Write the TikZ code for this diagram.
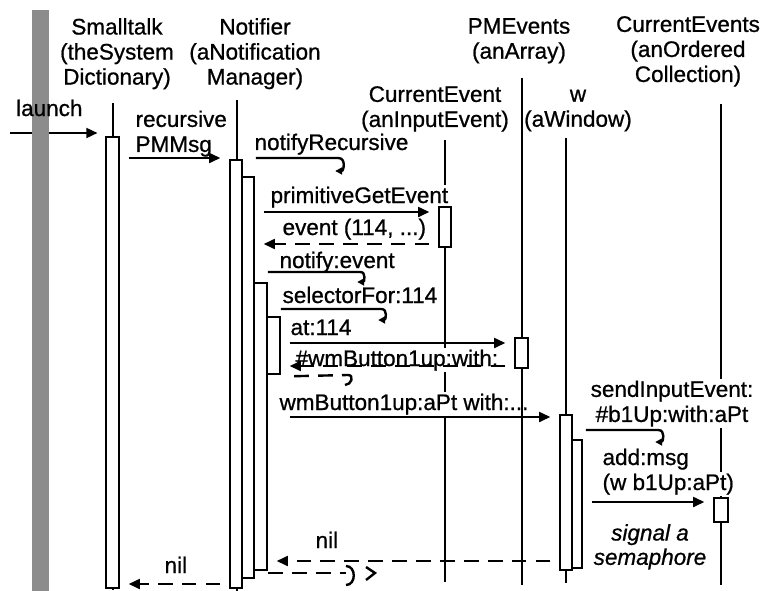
\documentclass[tikz,border=0pt]{standalone}
\usepackage{fontspec}
\setmainfont{Liberation Sans}[RawFeature={embolden=0.8}]
\usetikzlibrary{arrows.meta,fit}
\definecolor{bargray}{gray}{0.55}
\tikzset{every path/.style={line width=1.7pt}}
\tikzset{
  every node/.style={font=\fontsize{16}{17.8}\selectfont},
  head/.style={align=center,anchor=north,inner sep=0pt},
  lbl/.style={anchor=base west,fill=white,inner sep=1pt},
  act/.style={draw,fill=white,inner sep=0pt},
  msg/.style={-{Triangle[length=8pt,width=7pt]},shorten <=6pt,shorten >=6pt},
  ret/.style={msg,dash pattern=on 10.5pt off 6.5pt},
  self/.style={-{Triangle[length=5pt,width=5pt]},shorten <=9pt},
  hook/.style={dash pattern=on 10.5pt off 6.5pt},
}

\begin{document}
\begin{tikzpicture}[x=0.025cm,y=-0.025cm]
  \useasboundingbox (0,0) rectangle (764,591);

  \node[head] (st) at (117,17) {Smalltalk\\(theSystem\\Dictionary)};
  \node[head] (nt) at (255,17) {Notifier\\(aNotification\\Manager)};
  \node[head] (ce) at (435,85) {CurrentEvent\\(anInputEvent)};
  \node[head] (pm) at (519,17) {PMEvents\\(anArray)};
  \node[head] (w) at (578,85) {\vphantom{W}w\\(aWindow)};
  \node[head] (ces) at (688,15) {CurrentEvents\\(anOrdered\\Collection)};

  \draw (113,103) -- (113,590);
  \draw (237,100) -- (237,591);
  \draw (445,140) -- (445,582);
  \draw (566,138) -- (566,583);
  \draw (721,104) -- (721,585);

  \coordinate (launch) at (10,133);
  \draw[msg,shorten <=0pt] (launch) -- (launch -| 106,0);
  \fill[bargray] (32,10) rectangle (49,591);
  \node[anchor=base west,inner sep=0pt] (launchL) at (15,116) {launch};

  \node[lbl,anchor=north west,align=left] (pmmL) at (133,108) {recursive\\PMMsg};
  \node[lbl] (nrL) at (252,150) {notifyRecursive};
  \node[lbl] (pgeL) at (268,203) {primitiveGetEvent};
  \node[lbl] (evL) at (280,235) {event (114, ...)};
  \node[lbl] (neL) at (277,268) {notify:event};
  \node[lbl] (sfL) at (280,303) {selectorFor:114};
  \node[lbl] (atL) at (288,335) {at:114};
  \node[lbl] (wbL) at (293,366) {\#wmButton1up:with:};
  \node[lbl] (wmL) at (277,410) {wmButton1up:aPt with:...};
  \node[lbl,anchor=north,align=center] (siL) at (672,378) {sendInputEvent:\\\#b1Up:with:aPt};
  \node[anchor=base west,inner sep=1pt] (addL) at (600,465) {add:msg};
  \node[lbl] (addL2) at (600,490) {(w b1Up:aPt)};
  \node[anchor=north,align=center,inner sep=0pt,font=\fontsize{16}{17.3}\selectfont\itshape] (sigL) at (650,523) {signal a\\semaphore};
  \node[anchor=base west,inner sep=1pt] (nilR) at (313,548) {nil};
  \node[anchor=base west,inner sep=1pt] (nilL) at (162,573) {nil};

  \draw (522,78) -- (522,585);

  \node[act,fit={(106,137) (119,588)}] (stA) {};
  \node[act,fit={(230,160) (242,588)}] (ntA) {};
  \node[act,fit={(242,177) (254,578)}] (ntB) {};
  \node[act,fit={(254,283) (267,570)}] (ntC) {};
  \node[act,fit={(267,317) (280,374)}] (ntD) {};
  \node[act,fit={(439,207) (451,247)}] (ceA) {};
  \node[act,fit={(515,338) (528,368)}] (pmA) {};
  \node[act,fit={(560,415) (572,570)}] (wA) {};
  \node[act,fit={(572,440) (582,568)}] (wB) {};
  \node[act,fit={(714,498) (728,522)}] (cesA) {};

  \coordinate (rPMM) at (0,158);
  \coordinate (rPGE) at (0,212);
  \coordinate (rEv) at (0,244);
  \coordinate (rNE) at (0,272);
  \coordinate (rSF) at (0,309);
  \coordinate (rAt) at (0,343);
  \coordinate (rWB) at (0,366);
  \coordinate (rWm) at (0,417);
  \coordinate (rSI) at (0,430);
  \coordinate (rAdd) at (0,502);
  \coordinate (rNil) at (0,561);
  \coordinate (rBack) at (0,573);
  \coordinate (rNil2) at (0,584);

  \draw[msg] (stA.east |- rPMM) -- (ntA.west |- rPMM);
  \draw[self] (ntA.east |- rPMM) -- ++(95,0) to[out=0,in=0,looseness=1.6] ++(-3,13);
  \draw[msg] (ntB.east |- rPGE) -- (ceA.west |- rPGE);
  \draw[ret] (ceA.west |- rEv) -- (ntB.east |- rEv);
  \draw[self] (ntB.east |- rNE) -- ++(105,0) to[out=0,in=0,looseness=1.6] ++(-3,10);
  \draw[self] (ntC.east |- rSF) -- ++(113,0) to[out=0,in=0,looseness=1.6] ++(-3,11);
  \draw[msg] (ntD.east |- rAt) -- (pmA.west |- rAt);
  \draw[ret] (pmA.west |- rWB) -- (ntD.east |- rWB);
  \draw[hook] (ntD.south east) ++(13,1) coordinate (sfRet) -- (348,375) coordinate (sfHook);
  \draw (sfHook) to[out=0,in=0,looseness=1.6] ++(-3,10);
  \draw[msg] (ntD.east |- rWm) -- (wA.west |- rWm);
  \draw[self] (wA.east |- rSI) -- ++(85,0) to[out=0,in=0,looseness=1.6] ++(-3,12);
  \draw[msg] (wB.east |- rAdd) -- (cesA.west |- rAdd);
  \draw[ret] (wA.west |- rNil) -- (ntC.east |- rNil);
  \draw[hook] (ntC.east |- rBack) -- (346,573) coordinate (neHook);
  \draw (neHook) ++(0,-7) to[out=0,in=0,looseness=1.4] ++(0,19);
  \draw (neHook) ++(20,-6) coordinate (nrHook) -- ++(9,6) -- ++(-9,7);
  \draw[ret] (ntA.west |- rNil2) -- (stA.east |- rNil2);
\end{tikzpicture}
\end{document}
